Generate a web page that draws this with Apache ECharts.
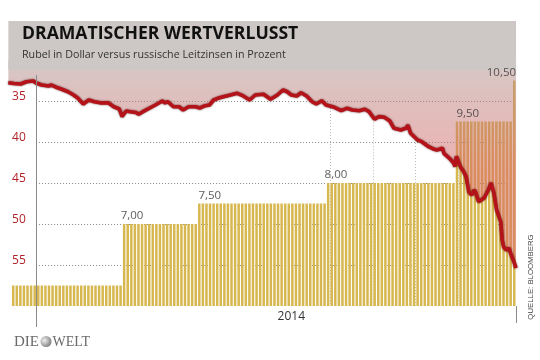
<!DOCTYPE html>
<html><head><meta charset="utf-8">
<script src="https://cdn.jsdelivr.net/npm/echarts@6/dist/echarts.min.js"></script>
<style>html,body{margin:0;padding:0;background:#fff}#c{width:540px;height:360px}</style>
</head><body><div id="c"></div>
<script>
// ---- data ----
const rubelDates = ['2013-12-12','2013-12-16','2013-12-21','2013-12-25','2013-12-30','2014-01-01','2014-01-05','2014-01-10','2014-01-12','2014-01-15',
'2014-01-19','2014-01-24','2014-01-28','2014-01-31','2014-02-04','2014-02-08','2014-02-12','2014-02-17','2014-02-22','2014-02-26',
'2014-03-02','2014-03-04','2014-03-07','2014-03-10','2014-03-14','2014-03-16','2014-03-19','2014-03-24','2014-03-28','2014-04-02',
'2014-04-04','2014-04-06','2014-04-10','2014-04-14','2014-04-17','2014-04-21','2014-04-26','2014-04-29','2014-05-03','2014-05-06',
'2014-05-09','2014-05-12','2014-05-16','2014-05-19','2014-05-26','2014-05-30','2014-06-04','2014-06-08','2014-06-14','2014-06-19',
'2014-06-24','2014-06-28','2014-07-01','2014-07-04','2014-07-08','2014-07-11','2014-07-15','2014-07-19','2014-07-22','2014-07-26',
'2014-07-29','2014-08-04','2014-08-09','2014-08-13','2014-08-17','2014-08-22','2014-08-26','2014-08-29','2014-09-02','2014-09-05',
'2014-09-09','2014-09-13','2014-09-16','2014-09-21','2014-09-25','2014-09-26','2014-09-28','2014-10-03','2014-10-06','2014-10-11',
'2014-10-15','2014-10-17','2014-10-21','2014-10-22','2014-10-26','2014-10-29','2014-10-30','2014-10-31','2014-11-03','2014-11-05',
'2014-11-07','2014-11-09','2014-11-11','2014-11-13','2014-11-14','2014-11-16','2014-11-20','2014-11-23','2014-11-25','2014-11-27',
'2014-11-29','2014-12-02','2014-12-03','2014-12-04','2014-12-06','2014-12-08','2014-12-09','2014-12-11','2014-12-13'];
const rubelValues = [32.77,32.87,32.93,32.65,32.56,32.80,33.05,33.17,33.05,33.29,
33.54,33.87,34.27,34.63,35.37,34.88,35.09,35.24,35.21,35.70,
35.98,36.89,36.22,36.30,36.40,36.62,36.30,35.85,35.49,35.00,
35.24,35.09,35.70,35.70,36.10,35.70,35.70,35.85,35.57,35.49,
34.88,34.67,34.48,34.35,34.06,34.35,34.88,34.27,34.18,34.79,
34.27,33.66,33.87,34.27,34.39,33.99,34.39,35.09,35.37,34.96,
35.49,35.77,36.18,35.89,36.10,36.18,36.01,36.30,37.23,36.91,
36.99,37.44,38.33,38.54,38.29,37.93,38.94,39.76,39.96,40.57,
40.89,40.98,40.77,41.38,41.99,42.56,42.99,41.77,43.05,43.54,
44.23,46.10,46.46,45.85,46.22,47.28,46.83,45.85,45.00,46.22,
48.29,49.76,51.95,52.77,53.17,52.96,53.54,54.39,55.37];
const rateStartDates = ['2013-12-12','2014-03-03','2014-04-28','2014-07-28','2014-10-31','2014-12-11'];
const rateValues = [5.5, 7.0, 7.5, 8.0, 9.5, 10.5];
const rateLabels = ['', '7,00', '7,50', '8,00', '9,50', '10,50'];
const rubelTicks = [35, 40, 45, 50, 55];
const xStart = '2013-12-12', xEnd = '2014-12-13';
const yearStartDate = '2014-01-01', yearLabel = '2014', yearLabelDate = '2014-07-04';
const monthLineDates = ['2014-08-01','2014-09-01','2014-10-01','2014-11-01','2014-12-01'];

// ---- helpers ----
const DAY = 86400000;
const toTime = s => { const [y,m,d] = s.split('-').map(Number); return new Date(y, m-1, d).getTime(); };
const rateAt = t => { let r = rateValues[0]; rateStartDates.forEach((d,i) => { if (toTime(d) <= t) r = rateValues[i]; }); return r; };
const rubel = rubelDates.map((d,i) => [toTime(d), rubelValues[i]]);
// striped rate bars (sampled from the step data)
const stripeStep = 2.58 * DAY;
const stripes = [];
for (let t = toTime('2014-12-11') + 0.7*DAY; t >= toTime('2013-12-15'); t -= stripeStep) stripes.unshift([t, rateAt(t)]);
const labelData = rateLabels.map((txt,i) => txt ? {
  name: txt,
  value: [i === rateLabels.length-1 ? toTime(xEnd) : toTime(rateStartDates[i]), rateValues[i]],
  label: {align: i === rateLabels.length-1 ? 'right' : 'left'}
} : null).filter(Boolean);
const nearestRubel = d => { const t = toTime(d); let best = rubel[0]; rubel.forEach(p => { if (Math.abs(p[0]-t) < Math.abs(best[0]-t)) best = p; }); return best[1]; };

const FONT = "'Open Sans', sans-serif";
const chart = echarts.init(document.getElementById('c'));
chart.setOption({
  animation: false,
  grid: {left: 7.1, right: 22.7, top: 60, bottom: 54},
  xAxis: {type: 'time', min: toTime(xStart), max: toTime(xEnd),
    axisLine: {show: false}, axisTick: {show: false}, axisLabel: {show: false}, splitLine: {show: false}},
  yAxis: [
    {type: 'value', inverse: true, min: 30, max: 60, interval: 5,
     axisLine: {show: false}, axisTick: {show: false}, splitLine: {show: false},
     axisLabel: {inside: true, margin: 5, color: '#b3242a', fontFamily: FONT, fontSize: 12,
       verticalAlign: 'bottom', lineHeight: 8,
       formatter: v => rubelTicks.includes(v) ? String(v) : ''}},
    {type: 'value', min: 5, max: 11, show: false}
  ],
  series: [
    {type: 'bar', name: 'Leitzins', xAxisIndex: 0, yAxisIndex: 1, data: stripes, barWidth: 2.5,
     itemStyle: {color: '#d7b750'}, silent: true, z: 2},
    {type: 'scatter', name: 'labels', yAxisIndex: 1, data: labelData, symbolSize: 0, silent: true, z: 5,
     label: {show: true, position: 'top', distance: 2, color: '#333', fontSize: 11.5, fontFamily: FONT, formatter: '{b}'}},
    {type: 'line', name: 'Rubel', yAxisIndex: 0, data: rubel, symbol: 'none', z: 3,
     lineStyle: {color: '#b5131a', width: 3.6, shadowColor: 'rgba(70,0,0,0.8)', shadowBlur: 2},
     areaStyle: {origin: 'start', opacity: 1, color: {type: 'linear', x: 0, y: 60, x2: 0, y2: 170, global: true,
       colorStops: [{offset: 0, color: 'rgba(173,147,143,0.5)'}, {offset: 0.35, color: 'rgba(190,128,124,0.5)'}, {offset: 1, color: 'rgba(217,101,101,0.5)'}]}},
     markLine: {silent: true, symbol: 'none', z: 1, label: {show: false},
       data: rubelTicks.map(v => [{coord: [toTime(yearStartDate), v], lineStyle: {type: [1,2], color: '#888', width: 1}},
                                  {coord: [toTime(xEnd), v]}])
         .concat(monthLineDates.map(d => [{coord: [toTime(d), nearestRubel(d)], lineStyle: {type: [1,2], color: '#bbb', width: 1}},
                                          {coord: [toTime(d), 60]}]))}}
  ]
});

const px = d => chart.convertToPixel({xAxisIndex: 0}, toTime(d));
const x0 = px(xStart), x1 = px(xEnd), xj = Math.round(px(yearStartDate)) + 0.5, xe = Math.round(x1) + 0.5;
chart.setOption({graphic: [
  {type: 'rect', z: 4, shape: {x: x0, y: 21, width: x1 - x0, height: 49}, style: {fill: '#cdc8c6'}},
  {type: 'text', z: 11, x: 22, y: 34, style: {text: 'DRAMATISCHER WERTVERLUSST', font: "bold 17.6px 'Open Sans'", fill: '#111', verticalAlign: 'middle'}},
  {type: 'text', z: 11, x: 22, y: 55, style: {text: 'Rubel in Dollar versus russische Leitzinsen in Prozent', font: "10.7px 'Open Sans'", fill: '#333', verticalAlign: 'middle'}},
  {type: 'line', z: 12, shape: {x1: xj, y1: 75, x2: xj, y2: 327}, style: {stroke: '#8a8a8a', lineWidth: 1}},
  {type: 'line', z: 12, shape: {x1: xe, y1: 306, x2: xe, y2: 323}, style: {stroke: '#8a8a8a', lineWidth: 1}},
  {type: 'text', z: 11, x: px(yearLabelDate), y: 317, style: {text: yearLabel, font: "12px 'Open Sans'", fill: '#333', align: 'center', verticalAlign: 'middle'}},
  {type: 'text', z: 11, x: 531, y: 277, rotation: Math.PI/2, style: {text: 'QUELLE: BLOOMBERG', font: "7.8px 'Liberation Sans'", fill: '#444', align: 'center', verticalAlign: 'middle'}},
  {type: 'text', z: 11, x: 14, y: 342, style: {text: 'DIE', font: "15px 'Liberation Serif'", fill: '#6a6a6a', verticalAlign: 'middle'}},
  {type: 'circle', z: 11, shape: {cx: 46, cy: 341.5, r: 5.5}, style: {fill: {type: 'radial', x: 0.35, y: 0.4, r: 0.7, colorStops: [{offset: 0, color: '#f0f0f0'}, {offset: 1, color: '#7a7a7a'}]}}},
  {type: 'text', z: 11, x: 52.5, y: 342, style: {text: 'WELT', font: "14px 'Liberation Serif'", fill: '#6a6a6a', verticalAlign: 'middle'}}
]});
</script></body></html>
